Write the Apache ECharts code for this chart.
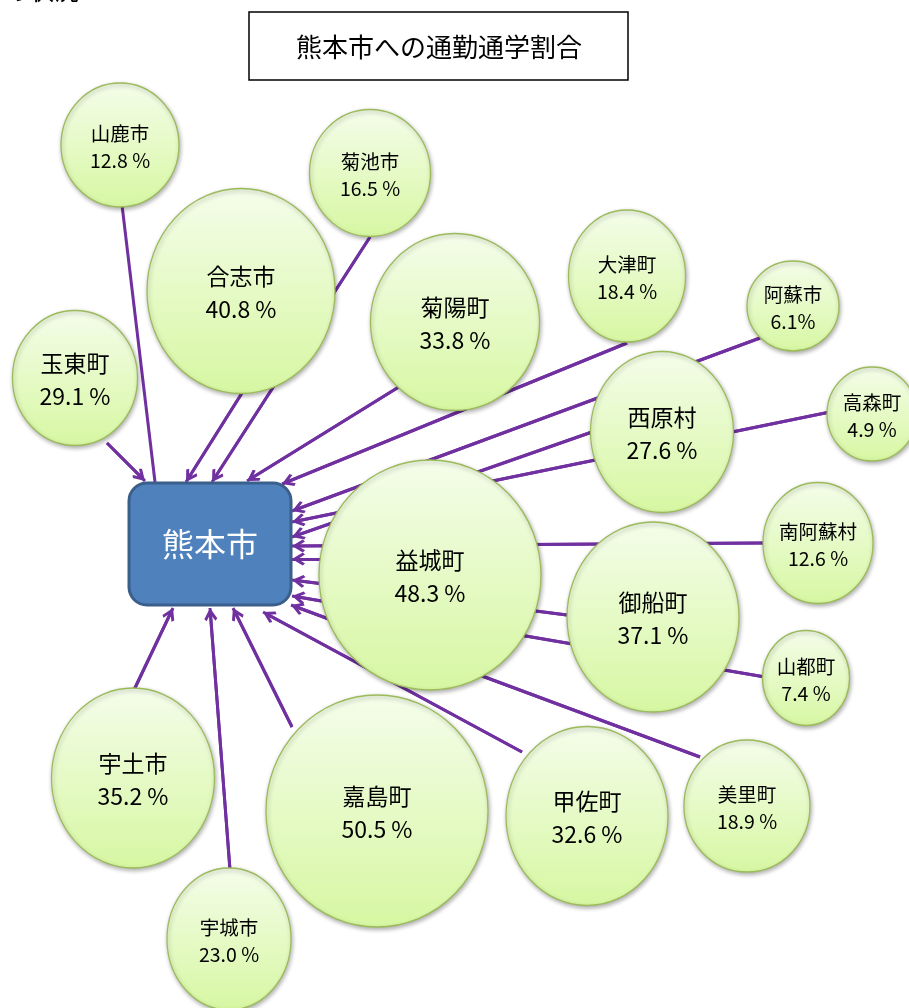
<!DOCTYPE html>
<html>
<head>
<meta charset="utf-8">
<script src="https://cdn.jsdelivr.net/npm/echarts@6/dist/echarts.min.js"></script>
<style>
html,body{margin:0;padding:0;background:#fff;}
#chart{width:909px;height:1008px;}
</style>
</head>
<body>
<div id="chart"></div>
<script>
// ---- data ----
const titleText = '熊本市への通勤通学割合';
const hubName = '熊本市';
const names = ['山鹿市','菊池市','合志市','菊陽町','大津町','阿蘇市','高森町','西原村','南阿蘇村','益城町','御船町','山都町','美里町','甲佐町','嘉島町','宇土市','宇城市','玉東町'];
const pct   = [12.8,16.5,40.8,33.8,18.4,6.1,4.9,27.6,12.6,48.3,37.1,7.4,18.9,32.6,50.5,35.2,23.0,29.1];
// node layout (diagram positions, px)
const nodeX = [120,370,241,455,627,793,872,662,818,430,653,806,747,587,377,133,229,75];
const nodeY = [145,173,291,322,276,306,414,432,543,575,617,678,806,816,811,778,939,378];
const nodeW = [118,121,188,169,117,92,90,143,110,222,172,87,126,162,222,163,124,125];
const nodeH = [124,127,205,177,132,90,94,161,121,230,190,95,132,179,232,180,142,135];
// edges: start on circle, end at hub edge
const edgeSX = [122,370,242,402,627,760,830,592,763,322,567,765,700,522,292,134,230,107];
const edgeSY = [205,237,393,385,343,338,412,432,543,559,615,677,757,752,727,690,870,443];
const edgeTX = [155,212,186,247,282,292,292,292,292,292,292,292,291,263,233,173,210,145];
const edgeTY = [482,482,482,481,484,511,522,537,546,559,580,596,605,612,608,608,608,481];
const edgeArrow = [false,true,true,true,true,true,true,true,true,true,true,true,true,true,true,true,true,true];
const hubBox = [129,483,162,122]; // x, y, w, h

// ---- build ----
const FONT = '"Noto Sans CJK JP", "Noto Sans", sans-serif';
const ARROW_LEN = 13, ARROW_W = 20;
const ellipsePath = 'path://M0,50 A50,50 0 1,1 100,50 A50,50 0 1,1 0,50 Z';
const chevron = 'path://M50,0 L100,76 L84,92 L50,42 L16,92 L0,76 Z';

const nodeData = names.map((n, i) => {
  const big = pct[i] >= 25;
  const fs = big ? 23 : 19.5;
  const lh = big ? 33 : 27;
  const pctTxt = pct[i].toFixed(1) + (n === '阿蘇市' ? '%' : ' %');
  return {
    name: n,
    value: [nodeX[i], nodeY[i], pct[i]],
    symbolSize: [nodeW[i], nodeH[i]],
    label: {
      formatter: '{n|' + n + '}\n{p|' + pctTxt + '}',
      rich: {
        n: {fontSize: fs, lineHeight: lh, fontFamily: FONT, color: '#000', align: 'center'},
        p: {fontSize: fs, lineHeight: lh, fontFamily: FONT, color: '#000', align: 'center'}
      }
    }
  };
});

const shafts = edgeSX.map((x, i) => ({coords: [[x, edgeSY[i]], [edgeTX[i], edgeTY[i]]]}));
const heads = [];
edgeSX.forEach((x, i) => {
  if (!edgeArrow[i]) return;
  const dx = edgeTX[i] - x, dy = edgeTY[i] - edgeSY[i];
  const L = Math.hypot(dx, dy);
  const ex = edgeTX[i] - dx / L * ARROW_LEN / 2;
  const ey = edgeTY[i] - dy / L * ARROW_LEN / 2;
  heads.push({coords: [[x, edgeSY[i]], [ex, ey]]});
});

const chart = echarts.init(document.getElementById('chart'), null, {renderer: 'canvas'});
const lineColor = '#7030a0';
chart.setOption({
  animation: false,
  backgroundColor: '#fff',
  grid: {left: 0, right: 0, top: 0, bottom: 0, containLabel: false},
  xAxis: {type: 'value', min: 0, max: 909, show: false},
  yAxis: {type: 'value', min: 0, max: 1008, inverse: true, show: false},
  series: [
    {
      type: 'lines', coordinateSystem: 'cartesian2d', z: 1, silent: true,
      lineStyle: {color: lineColor, width: 3, opacity: 1, curveness: 0},
      symbol: ['none', 'none'],
      data: shafts
    },
    {
      type: 'lines', coordinateSystem: 'cartesian2d', z: 1, silent: true,
      lineStyle: {color: lineColor, width: 3, opacity: 1, curveness: 0},
      symbol: ['none', chevron], symbolSize: [ARROW_W, ARROW_LEN],
      data: heads
    },
    {
      type: 'scatter', z: 2, silent: true,
      symbol: ellipsePath, symbolKeepAspect: false,
      itemStyle: {
        opacity: 1,
        color: new echarts.graphic.LinearGradient(0, 0, 0, 1, [
          {offset: 0, color: '#f4fdea'},
          {offset: 1, color: '#d7f7a2'}
        ]),
        borderColor: '#9bbb59', borderWidth: 1.3,
        shadowBlur: 4, shadowOffsetX: 1, shadowOffsetY: 2, shadowColor: 'rgba(0,0,0,0.3)'
      },
      label: {show: true, position: 'inside', offset: [0, 2]},
      data: nodeData
    }
  ],
  graphic: [
    {
      type: 'rect', z: 100,
      shape: {x: hubBox[0], y: hubBox[1], width: hubBox[2], height: hubBox[3], r: 18},
      style: {fill: '#4f81bd', stroke: '#3a5f8b', lineWidth: 3}
    },
    {
      type: 'text', z: 101,
      x: hubBox[0] + hubBox[2] / 2, y: hubBox[1] + hubBox[3] / 2,
      style: {text: hubName, fill: '#fff', font: '32px ' + FONT, align: 'center', verticalAlign: 'middle'}
    },
    {
      type: 'rect', z: 100,
      shape: {x: 249, y: 12, width: 379, height: 68},
      style: {fill: '#fff', stroke: '#000', lineWidth: 1.5}
    },
    {
      type: 'text', z: 101,
      x: 439, y: 47,
      style: {text: titleText, fill: '#000', font: '26px ' + FONT, align: 'center', verticalAlign: 'middle'}
    },
    {
      type: 'text', z: 101,
      x: 4, y: 3,
      style: {text: 'の状況', fill: '#000', font: '25px ' + FONT, align: 'left', verticalAlign: 'bottom'}
    }
  ]
});
</script>
</body>
</html>
